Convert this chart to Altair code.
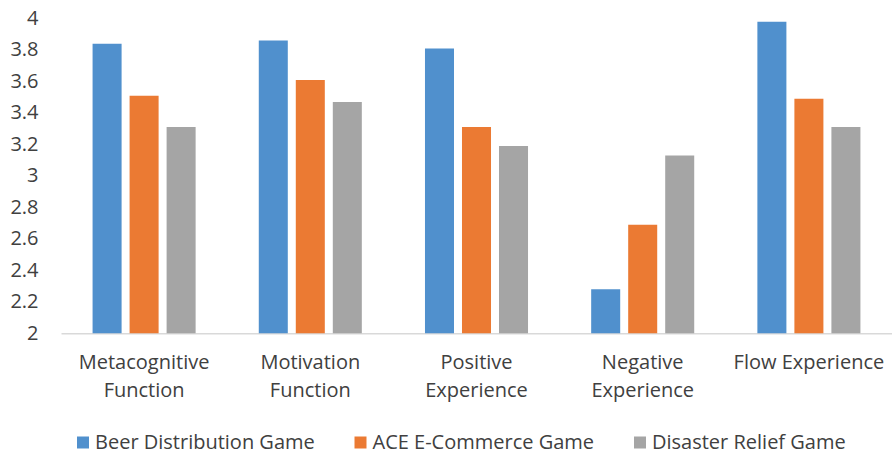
import altair as alt
import pandas as pd

# Dimensions rated for each game
categories = [
    "Metacognitive Function",
    "Motivation Function",
    "Positive Experience",
    "Negative Experience",
    "Flow Experience",
]
series = ["Beer Distribution Game", "ACE E-Commerce Game", "Disaster Relief Game"]

beer = [3.84, 3.86, 3.81, 2.28, 3.98]
ace = [3.51, 3.61, 3.31, 2.69, 3.49]
disaster = [3.31, 3.47, 3.19, 3.13, 3.31]

y_ticks = [2, 2.2, 2.4, 2.6, 2.8, 3, 3.2, 3.4, 3.6, 3.8, 4]
colors = ["#5090CD", "#EB7A33", "#A5A5A5"]

rows = []
for name, vals in zip(series, [beer, ace, disaster]):
    for cat, v in zip(categories, vals):
        rows.append({"category": cat, "series": name, "score": v})
df = pd.DataFrame(rows)

FONT = "Open Sans"
TEXT = "#404040"
SIZE = 20

chart = (
    alt.Chart(df)
    .mark_bar()
    .encode(
        x=alt.X(
            "category:N",
            sort=categories,
            title=None,
            scale=alt.Scale(paddingInner=0.38, paddingOuter=0.19),
            axis=alt.Axis(
                labelAngle=0,
                labelExpr="length(datum.label) > 16 ? split(datum.label, ' ') : datum.label",
                labelFontSize=SIZE,
                labelLineHeight=28.5,
                labelPadding=19,
                labelColor=TEXT,
                labelLimit=400,
                ticks=False,
                domainColor="#D9D9D9",
                domainWidth=1.5,
                grid=False,
            ),
        ),
        xOffset=alt.XOffset(
            "series:N", sort=series, scale=alt.Scale(paddingInner=0.216)
        ),
        y=alt.Y(
            "score:Q",
            title=None,
            scale=alt.Scale(domain=[y_ticks[0], y_ticks[-1]], zero=False, nice=False),
            axis=alt.Axis(
                values=y_ticks,
                format=".1~f",
                labelFontSize=SIZE,
                labelPadding=23,
                labelColor=TEXT,
                domain=False,
                ticks=False,
                grid=False,
            ),
        ),
        y2=alt.datum(y_ticks[0]),
        color=alt.Color(
            "series:N",
            sort=series,
            scale=alt.Scale(domain=series, range=colors),
            legend=alt.Legend(
                title=None,
                orient="none",
                legendX=12,
                legendY=414,
                direction="horizontal",
                symbolType="square",
                symbolSize=144,
                symbolStrokeWidth=0,
                labelFontSize=SIZE,
                labelColor=TEXT,
                labelOffset=2,
                columnPadding=35.5,
                labelLimit=400,
                padding=0,
            ),
        ),
    )
    .properties(
        width=831,
        height=314.8,
        autosize=alt.AutoSizeParams(type="none"),
        padding={"left": 61, "top": 18.5, "right": 0, "bottom": 120.7},
    )
    .configure(font=FONT)
    .configure_view(stroke=None)
)

chart.save("out.html", embed_options={"renderer": "svg", "actions": False})
